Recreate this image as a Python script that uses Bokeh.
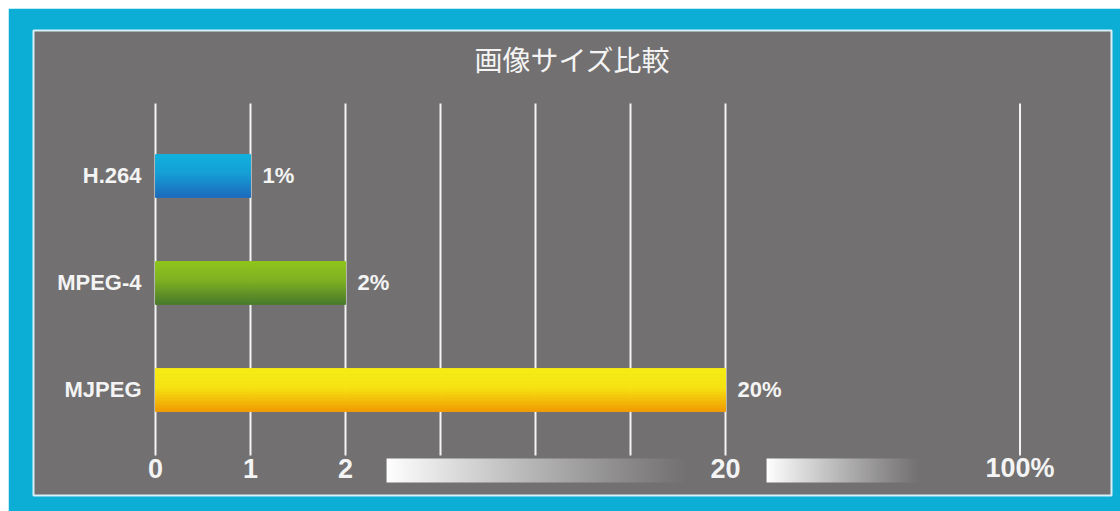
import numpy as np
from bokeh.plotting import figure
from bokeh.models import ColumnDataSource, Label
from bokeh.core.properties import value
from bokeh.embed import file_html
from bokeh.resources import INLINE

# ---- data ----
categories = ["H.264", "MPEG-4", "MJPEG"]
sizes = [1, 2, 20]                      # percent
value_labels = ["1%", "2%", "20%"]
# broken axis: data value -> axis position
scale_values = [0, 1, 2, 20, 100]
scale_positions = [0, 1, 2, 6, 9.1]
grid_positions = [0, 1, 2, 3, 4, 5, 6, 9.1]
tick_values = [0, 1, 2, 20, 100]
tick_labels = ["0", "1", "2", "20", "100%"]
title_text = "画像サイズ比較"

# ---- styling ----
CYAN = "#0caed6"
GRAY = "#727070"
WHITE = "#f4f4f4"
gradients = {
    "H.264": [(0.0, "#12b3de"), (0.45, "#169fd6"), (1.0, "#1d6cbc")],
    "MPEG-4": [(0.0, "#90c61c"), (0.45, "#7fb122"), (1.0, "#4b7b2d")],
    "MJPEG": [(0.0, "#f6ec14"), (0.45, "#f7e413"), (1.0, "#f19d02")],
}
BAR_H = 0.40

def to_pos(v):
    return float(np.interp(v, scale_values, scale_positions))

def hex2rgb(h):
    h = h.lstrip("#")
    return np.array([int(h[i:i + 2], 16) for i in (0, 2, 4)], dtype=float)

def color_at(stops, t):
    for (t0, c0), (t1, c1) in zip(stops[:-1], stops[1:]):
        if t0 <= t <= t1:
            f = (t - t0) / (t1 - t0)
            c = hex2rgb(c0) * (1 - f) + hex2rgb(c1) * f
            return "#%02x%02x%02x" % tuple(int(round(x)) for x in c)
    return stops[-1][1]

n = len(categories)
cat_y = [n - i for i in range(n)]   # H.264 at top

p = figure(width=1112, height=503, title=None, toolbar_location=None,
           output_backend="svg",
           x_range=(-1.2842, 10.063), y_range=(0.01402, 4.3598),
           min_border_left=25, min_border_right=9,
           min_border_top=22, min_border_bottom=16)
p.styles = {"margin-left": "8px", "margin-top": "8px"}
p.border_fill_color = CYAN
p.background_fill_color = GRAY
p.outline_line_color = "#d6f1f8"
p.outline_line_width = 2
p.xaxis.visible = False
p.yaxis.visible = False
p.xgrid.visible = False
p.ygrid.visible = False

# gridlines
p.segment(x0=grid_positions, x1=grid_positions, y0=[0.388] * len(grid_positions),
          y1=[3.678] * len(grid_positions), line_color=WHITE, line_width=2)

# gradient bars made from thin horizontal slices
N = 30
sl = dict(y=[], right=[], color=[])
for cat, yc, v in zip(categories, cat_y, sizes):
    top = yc + BAR_H / 2
    for k in range(N):
        t = (k + 0.5) / N
        sl["y"].append(top - t * BAR_H)
        sl["right"].append(to_pos(v))
        sl["color"].append(color_at(gradients[cat], t))
src = ColumnDataSource(sl)
p.hbar(y="y", left=0, right="right", height=BAR_H / N, source=src,
       fill_color="color", line_color="color", line_width=1)

# value labels
p.text(x=[to_pos(v) + 0.126 for v in sizes], y=cat_y, text=value_labels,
       text_font=value("Liberation Sans"), text_font_style="bold",
       text_font_size="22px", text_color=WHITE, text_baseline="middle",
       text_align="left")

# category labels
p.text(x=[-0.147] * n, y=cat_y, text=categories,
       text_font=value("Liberation Sans"), text_font_style="bold",
       text_font_size="22px", text_color=WHITE, text_baseline="middle",
       text_align="right")

# tick labels
p.text(x=[to_pos(v) for v in tick_values], y=[0.271] * len(tick_values),
       text=tick_labels, text_font=value("Liberation Sans"),
       text_font_style="bold", text_font_size="27px", text_color=WHITE,
       text_baseline="middle", text_align="center")

# axis-break fade boxes as smooth RGBA images
W = 256
alpha = ((1 - (np.arange(W) + 0.5) / W) ** 1.1 * 255).astype(np.uint32)
row = (alpha << 24) | (255 << 16) | (255 << 8) | 255
img = np.tile(row, (2, 1)).astype(np.uint32)
boxes = [(2.432, 5.632), (6.432, 8.053)]
p.image_rgba(image=[img, img], x=[b[0] for b in boxes], y=[0.1355, 0.1355],
             dw=[b[1] - b[0] for b in boxes], dh=[0.2243, 0.2243])

# title
p.add_layout(Label(x=4.389, y=4.098, text=title_text,
                   text_font="Noto Sans CJK JP", text_font_size="28px",
                   text_color=WHITE, text_align="center",
                   text_baseline="middle"))

open("out.html", "w").write(file_html(p, INLINE))
